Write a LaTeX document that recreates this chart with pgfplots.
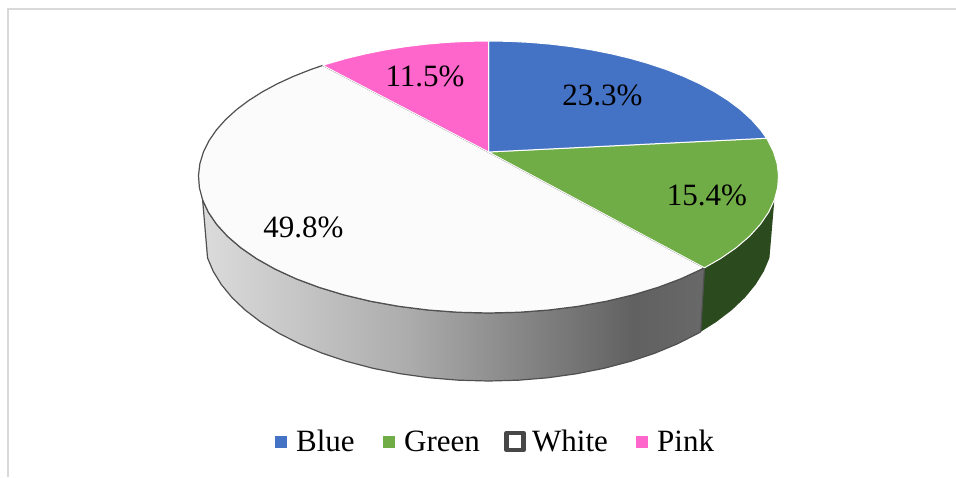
\documentclass[border=0pt]{standalone}
\usepackage{pgfplots}
\usepackage{pgfplotstable}
\usepackage{fontspec}
\setmainfont{Liberation Serif}
\pgfplotsset{compat=1.18}

\definecolor{sliceblue}{HTML}{4472C4}
\definecolor{slicegreen}{HTML}{70AD47}
\definecolor{slicewhite}{HTML}{FBFBFB}
\definecolor{slicepink}{HTML}{FF66CC}
\definecolor{rimgreen}{HTML}{2B4A1D}
\definecolor{edgegrey}{HTML}{505050}
\definecolor{framegrey}{HTML}{D9D9D9}

\tikzset{label text/.style={font=\fontsize{31}{36}\selectfont, text=black, inner sep=0pt}}

% Shading of the wall under the largest slice: bright on the left, dark towards the right
\pgfdeclarehorizontalshading{wallshade}{100bp}{
  color(0bp)=(white!86!black);
  color(25bp)=(white!86!black);
  color(45bp)=(white!68!black);
  color(68bp)=(white!38!black);
  color(75bp)=(white!41!black);
  color(100bp)=(white!41!black)}

% Unit-circle rim points, clockwise from the top; each slice spans value/100*360 degrees.
% d = 0 is the top face, d = 1 the bottom edge of the wall.
\pgfplotstableread{
X Y d
0 0 0
0 1 0
.0872 .9962 0
.1736 .9848 0
.2588 .9659 0
.3420 .9397 0
.4226 .9063 0
.5 .8660 0
.5736 .8192 0
.6428 .7660 0
.7071 .7071 0
.7660 .6428 0
.8192 .5736 0
.8660 .5 0
.9063 .4226 0
.9397 .3420 0
.9659 .2588 0
.9848 .1736 0
.99430 .10662 0
}\blueslice

\pgfplotstableread{
X Y d
0 0 0
.99430 .10662 0
.9962 .0872 0
1 0 0
.9962 -.0872 0
.9848 -.1736 0
.9659 -.2588 0
.9397 -.3420 0
.9063 -.4226 0
.8660 -.5 0
.8192 -.5736 0
.7660 -.6428 0
.7071 -.7071 0
.65183 -.75836 0
}\greenslice

\pgfplotstableread{
X Y d
0 0 0
.65183 -.75836 0
.6428 -.7660 0
.5736 -.8192 0
.5 -.8660 0
.4226 -.9063 0
.3420 -.9397 0
.2588 -.9659 0
.1736 -.9848 0
.0872 -.9962 0
0 -1 0
-.0872 -.9962 0
-.1736 -.9848 0
-.2588 -.9659 0
-.3420 -.9397 0
-.4226 -.9063 0
-.5 -.8660 0
-.5736 -.8192 0
-.6428 -.7660 0
-.7071 -.7071 0
-.7660 -.6428 0
-.8192 -.5736 0
-.8660 -.5 0
-.9063 -.4226 0
-.9397 -.3420 0
-.9659 -.2588 0
-.9848 -.1736 0
-.9962 -.0872 0
-1 0 0
-.9962 .0872 0
-.9848 .1736 0
-.9659 .2588 0
-.9397 .3420 0
-.9063 .4226 0
-.8660 .5 0
-.8192 .5736 0
-.7660 .6428 0
-.7071 .7071 0
-.66131 .75011 0
}\whiteslice

\pgfplotstableread{
X Y d
0 0 0
-.66131 .75011 0
-.6428 .7660 0
-.5736 .8192 0
-.5 .8660 0
-.4226 .9063 0
-.3420 .9397 0
-.2588 .9659 0
-.1736 .9848 0
-.0872 .9962 0
0 1 0
}\pinkslice

% Wall under the largest slice, from its clockwise start to the left silhouette
\pgfplotstableread{
X Y d
.65183 -.75836 0
.6428 -.7660 0
.5736 -.8192 0
.5 -.8660 0
.4226 -.9063 0
.3420 -.9397 0
.2588 -.9659 0
.1736 -.9848 0
.0872 -.9962 0
0 -1 0
-.0872 -.9962 0
-.1736 -.9848 0
-.2588 -.9659 0
-.3420 -.9397 0
-.4226 -.9063 0
-.5 -.8660 0
-.5736 -.8192 0
-.6428 -.7660 0
-.7071 -.7071 0
-.7660 -.6428 0
-.8192 -.5736 0
-.8660 -.5 0
-.9063 -.4226 0
-.9397 -.3420 0
-.9397 -.3420 1
-.9063 -.4226 1
-.8660 -.5 1
-.8192 -.5736 1
-.7660 -.6428 1
-.7071 -.7071 1
-.6428 -.7660 1
-.5736 -.8192 1
-.5 -.8660 1
-.4226 -.9063 1
-.3420 -.9397 1
-.2588 -.9659 1
-.1736 -.9848 1
-.0872 -.9962 1
0 -1 1
.0872 -.9962 1
.1736 -.9848 1
.2588 -.9659 1
.3420 -.9397 1
.4226 -.9063 1
.5 -.8660 1
.5736 -.8192 1
.6428 -.7660 1
.65183 -.75836 1
}\whitewall

% Wall under the green slice, from the right silhouette to the slice's end
\pgfplotstableread{
X Y d
.9397 -.3420 0
.9063 -.4226 0
.8660 -.5 0
.8192 -.5736 0
.7660 -.6428 0
.7071 -.7071 0
.65183 -.75836 0
.65183 -.75836 1
.7071 -.7071 1
.7660 -.6428 1
.8192 -.5736 1
.8660 -.5 1
.9063 -.4226 1
.9397 -.3420 1
}\greenwall

% Perspective projection of the disc onto pixel coordinates
\pgfplotsset{
  /pgfplots/table/disc/.style={
    x expr={488.5+(290-5*\thisrow{d})*\thisrow{X}*0.983/(1+0.184*\thisrow{Y})},
    y expr={(177+56*\thisrow{d})-(136+12*\thisrow{d})*(\thisrow{Y}+0.184)/(1+0.184*\thisrow{Y})}
  }
}

\begin{document}
\begin{tikzpicture}
\path[use as bounding box] (0,0) rectangle (956pt,477pt);
\begin{axis}[
  at={(0,0)}, anchor=south west,
  width=956pt, height=477pt, scale only axis,
  xmin=0, xmax=956, ymin=0, ymax=477, y dir=reverse,
  hide axis, clip=false,
  every axis plot/.append style={mark=none}
]
% Chart frame
\addplot[framegrey, line width=2pt] coordinates {(8,477) (8,9) (956,9)};

% Walls
\addplot[fill=rimgreen, draw=none] table[disc] {\greenwall} -- cycle;
\addplot[shading=wallshade, draw=edgegrey, line width=1.2pt, line join=round] table[disc] {\whitewall} -- cycle;

% Top faces
\addplot[fill=slicewhite, draw=edgegrey, line width=1.2pt, line join=round] table[disc] {\whiteslice} -- cycle;
\addplot[fill=slicegreen, draw=white, line width=1pt, line join=round] table[disc] {\greenslice} -- cycle;
\addplot[fill=sliceblue, draw=white, line width=1pt, line join=round] table[disc] {\blueslice} -- cycle;
\addplot[fill=slicepink, draw=white, line width=1pt, line join=round] table[disc] {\pinkslice} -- cycle;

% Value labels
\node[label text] at (axis cs:602.5,95) {23.3\%};
\node[label text] at (axis cs:707,195) {15.4\%};
\node[label text] at (axis cs:303.5,227) {49.8\%};
\node[label text] at (axis cs:425,76) {11.5\%};

% Legend keys
\addplot[only marks, sliceblue, mark=square*, mark size=5.3pt, mark options={solid, fill=sliceblue, draw=sliceblue, line width=0.3pt}] coordinates {(280.5,441.5)};
\addplot[only marks, slicegreen, mark=square*, mark size=5.3pt, mark options={solid, fill=slicegreen, draw=slicegreen, line width=0.3pt}] coordinates {(388.5,441.5)};
\addplot[only marks, black!72, mark=square*, mark size=8.5pt, mark options={solid, fill=white, draw=black!72, line width=4.5pt, line join=round}] coordinates {(515,441.5)};
\addplot[only marks, slicepink, mark=square*, mark size=5.3pt, mark options={solid, fill=slicepink, draw=slicepink, line width=0.3pt}] coordinates {(641.5,441.5)};

% Legend names
\node[label text, anchor=base west] at (axis cs:296,451) {Blue};
\node[label text, anchor=base west] at (axis cs:404,451) {Green};
\node[label text, anchor=base west] at (axis cs:532,451) {White};
\node[label text, anchor=base west] at (axis cs:657,451) {Pink};
\end{axis}
\end{tikzpicture}
\end{document}
